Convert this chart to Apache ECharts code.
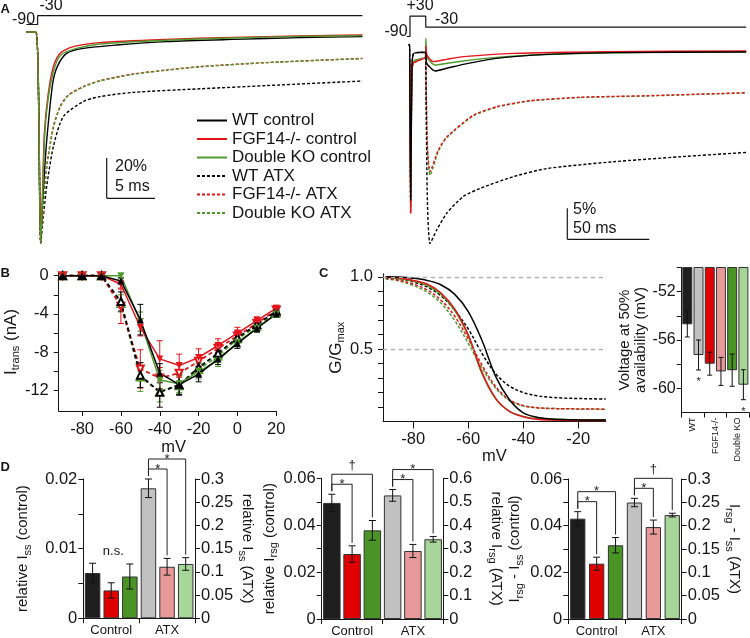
<!DOCTYPE html>
<html><head><meta charset="utf-8">
<script src="https://cdn.jsdelivr.net/npm/echarts@6/dist/echarts.min.js"></script>
<style>html,body{margin:0;padding:0;background:#fff}#c{width:750px;height:638px}</style>
</head><body><div id="c"></div>
<script>
// ================= DATA =================
const traceNames = ['WT control','FGF14-/- control','Double KO control','WT ATX','FGF14-/- ATX','Double KO ATX'];

// Panel A (left): time (ms) vs current (% of peak)
const aLeftProtocol = [[-1,3.75],[0.17,3.75],[0.17,8.2],[34,8.2]];
const aLeftWTctrl  = [[-1,0],[0,0],[0.49,-105.5],[0.7,-84],[0.95,-65],[1.18,-50.7],[1.74,-25.7],[2.22,-17.3],[3.19,-10.7],[4.93,-8.2],[8.4,-6.5],[13.6,-4.8],[20.5,-3.7],[27.5,-2.8],[34,-2.3]];
const aLeftFGFctrl = [[-1,0],[0,0],[0.49,-105.5],[0.68,-80],[0.87,-50.7],[1.28,-30.7],[1.81,-17.3],[2.5,-10.7],[3.89,-7.3],[6.67,-5.3],[13.6,-3.7],[20.5,-2.7],[27.5,-2],[34,-1.5]];
const aLeftDKOctrl = [[-1,0],[0,0],[0.49,-105.5],[0.7,-80],[0.92,-50.7],[1.35,-30.7],[1.97,-17.3],[2.6,-11.5],[4.2,-8.2],[6.67,-6.0],[13.6,-4.1],[20.5,-3],[27.5,-2.2],[34,-1.8]];
const aLeftWTatx   = [[-1,0],[0,0],[0.49,-105.5],[0.75,-93],[1.11,-77.3],[1.81,-57.3],[2.85,-42.3],[4.93,-34.8],[6.67,-32.3],[10.1,-30.2],[17.1,-28.4],[24,-26.8],[34,-24.5]];
const aLeftFGFatx  = [[-1,0],[0,0],[0.49,-105.5],[0.75,-88],[1.11,-67.3],[1.81,-47.3],[2.5,-37.3],[3.37,-31.5],[4.93,-27.3],[6.67,-24.3],[10.1,-21],[13.6,-19],[17.1,-17.3],[24,-15.3],[34,-13.2]];
const aLeftDKOatx  = [[-1,0],[0,0],[0.49,-105.5],[0.75,-88.5],[1.11,-68],[1.81,-48],[2.5,-37.8],[3.37,-31.8],[4.93,-27.5],[6.67,-24.5],[10.1,-21.2],[13.6,-19.1],[17.1,-17.4],[24,-15.3],[34,-13.3]];

// Panel A (right)
const aRightProtocol = [[-2,2.5],[0,2.5],[0,5.8],[9.6,5.8],[9.6,4],[205,4]];
const aRightWTctrl  = [[-0.6,1.3],[-0.2,0.8],[0.4,-23.9],[1.2,-2.4],[2,-0.3],[4,-0.1],[9.4,-0.05],[10.2,-1.83],[15.2,-3.06],[22.4,-2.63],[32.5,-1.99],[52.8,-1.02],[83.3,-0.38],[124,-0.1],[205,0]];
const aRightFGFctrl = [[-0.2,-1.3],[0.4,-26],[1,-4],[2,-1.83],[6.1,-1.29],[9.4,-0.86],[9.7,1.0],[10.3,-0.5],[14.2,-1.56],[22.4,-1.18],[32.5,-0.75],[63,-0.22],[120,0.05],[205,0.16]];
const aRightDKOctrl = [[-0.2,-1.3],[0.4,-25],[1,-3.5],[2,-1.5],[6.1,-1.1],[9.4,-0.9],[9.7,2.2],[10.3,-0.8],[15.2,-2.1],[22.4,-1.85],[32.5,-1.45],[52.8,-0.86],[83.3,-0.4],[124,-0.12],[205,0.05]];
const aRightWTatx   = [[-0.6,1.3],[-0.2,0.8],[0.4,-23.9],[1.2,-2.4],[2,-0.3],[4,-0.1],[9.4,-0.05],[9.8,-8],[10.6,-24],[12.2,-30.9],[16.3,-28.7],[22.4,-26],[32.5,-23.3],[42.7,-22],[63,-20.1],[83.3,-18.8],[124,-17.7],[164.6,-16.9],[205,-16.2]];
const aRightFGFatx  = [[-0.2,-1.3],[0.4,-26],[1,-4],[2,-1.83],[6.1,-1.29],[9.4,-0.86],[9.8,-5],[10.6,-15],[12.2,-19.3],[17.3,-15.8],[22.4,-13.7],[38.6,-10.2],[52.8,-8.82],[73.2,-7.85],[103.7,-7.3],[144.3,-7.05],[205,-6.56]];
const aRightDKOatx  = [[-0.2,-1.3],[0.4,-25],[1,-3.5],[2,-1.5],[6.1,-1.1],[9.4,-0.9],[9.8,-5.2],[10.6,-15.5],[12.2,-19.9],[17.3,-16.0],[22.4,-13.8],[38.6,-10.3],[52.8,-8.9],[73.2,-7.9],[103.7,-7.35],[144.3,-7.1],[205,-6.6]];

// Panel B: I-V
const bVolt      = [-90,-80,-70,-60,-50,-40,-30,-20,-10,0,10,20];
const bWTctrl    = [0,0,0,-0.55,-4.6,-10.2,-11.4,-10.3,-8.7,-7.1,-5.5,-4.0];
const bFGFctrl   = [0,0,0,-0.9,-5.4,-8.7,-9.4,-8.55,-7.3,-6.0,-4.7,-3.4];
const bDKOctrl   = [0,0,0,0,-4.8,-10.9,-11.3,-10.0,-8.9,-6.95,-5.5,-4.0];
const bWTatx     = [0,0,0,-2.7,-10.4,-12.2,-11.4,-9.6,-8.1,-6.5,-5.1,-3.7];
const bFGFatx    = [0,0,0,-3.2,-9.75,-10.7,-10.2,-8.96,-7.6,-6.3,-5.0,-3.6];
const bDKOatx    = [0,0,0,-2.9,-10.6,-12.1,-11.5,-9.8,-8.4,-6.6,-5.3,-3.9];
const bWTctrlErr  = [0,0,0,0.3,1.6,1.0,1.1,0.8,0.6,0.5,0.4,0.3];
const bFGFctrlErr = [0,0,0,0.4,0.9,1.9,1.2,0.9,0.7,0.6,0.4,0.3];
const bDKOctrlErr = [0,0,0,0.2,1.0,1.0,0.9,0.8,0.6,0.5,0.4,0.3];
const bWTatxErr   = [0,0,0,1.0,1.3,1.55,1.0,0.8,0.6,0.5,0.4,0.3];
const bFGFatxErr  = [0,0,0,1.8,2.0,1.1,0.9,0.7,0.5,0.5,0.4,0.3];
const bDKOatxErr  = [0,0,0,0.9,1.5,1.1,0.9,0.7,0.6,0.5,0.4,0.3];

// Panel C: availability curves
const cVolt    = [-90,-85,-80,-75,-70,-65,-60,-55,-50,-45,-40,-35,-30,-25,-20,-15,-10];
const cWTctrl  = [1.0,0.998,0.99,0.975,0.945,0.88,0.76,0.56,0.31,0.15,0.06,0.03,0.018,0.013,0.011,0.01,0.01];
const cFGFctrl = [1.0,0.99,0.975,0.95,0.89,0.78,0.6,0.34,0.16,0.07,0.033,0.015,0.01,0.008,0.007,0.007,0.007];
const cDKOctrl = [1.0,0.985,0.97,0.94,0.88,0.77,0.59,0.33,0.155,0.07,0.035,0.02,0.015,0.013,0.012,0.012,0.012];
const cWTatx   = [0.995,0.985,0.965,0.93,0.87,0.77,0.64,0.47,0.33,0.245,0.2,0.178,0.167,0.162,0.159,0.157,0.155];
const cFGFatx  = [0.99,0.975,0.95,0.91,0.84,0.73,0.57,0.39,0.24,0.15,0.11,0.095,0.09,0.088,0.087,0.086,0.085];
const cDKOatx  = [0.985,0.97,0.94,0.895,0.82,0.7,0.54,0.37,0.23,0.145,0.108,0.095,0.09,0.088,0.087,0.086,0.085];
const cRefLines = [1.0, 0.5];

// Panel C inset: V50
const insetCats   = ['WT','FGF14-/-','Double KO'];
const insetV50    = [-54.7,-57.24,-57.96,-58.6,-58.5,-59.7];
const insetV50Err = [1.05,1.24,0.95,1.16,1.33,1.24];
const insetStars  = [1,5];

// Panel D
const dCats = ['Control','ATX'];
const d1Ctrl = [0.0065,0.0040,0.0060], d1CtrlErr = [0.0014,0.0011,0.0018];
const d1Atx  = [0.280,0.111,0.117],    d1AtxErr  = [0.020,0.018,0.0136];
const d2Ctrl = [0.0495,0.0277,0.0378], d2CtrlErr = [0.0037,0.0035,0.0042];
const d2Atx  = [0.527,0.29,0.34],      d2AtxErr  = [0.025,0.028,0.012];
const d3Ctrl = [0.043,0.0237,0.0316],  d3CtrlErr = [0.003,0.0028,0.0033];
const d3Atx  = [0.2496,0.197,0.2227],  d3AtxErr  = [0.009,0.015,0.004];
const d1Sig = {ctrl: [], atx: [[1,'*'],[2,'*']]};
const d2Sig = {ctrl: [[1,'*'],[2,'\u2020']], atx: [[1,'*'],[2,'*']]};
const d3Sig = {ctrl: [[1,'*'],[2,'*']], atx: [[1,'*'],[2,'\u2020']]};

// ================= STYLE =================
const FONT = '"Liberation Sans", Arial, sans-serif';
const INK = '#161616';
const C_BLK = '#000000', C_RED = '#e3141b', C_GRN = '#4f9a2c';
const CTRL_COL = ['#1e1e1e','#e00000','#4a9426'];
const ATX_COL  = ['#c1c1c1','#e89a9a','#a8d69a'];
const INSET_COL = ['#1e1e1e','#c1c1c1','#e00000','#e89a9a','#4a9426','#a8d69a'];
const traceColors = [C_BLK, C_RED, C_GRN, C_BLK, C_RED, C_GRN];
const DASH = [3,2];

const chart = echarts.init(document.getElementById('c'), null, {renderer:'canvas'});

function lineAxisStyle(){ return {show:true, onZero:false, lineStyle:{color:INK, width:1}}; }
function tickStyle(len, vals){ const t = {show:true, length:len, inside:false, lineStyle:{color:INK, width:1}}; if (vals) t.customValues = vals; return t; }
function labStyle(size, margin, vals, extra){ const l = Object.assign({color:INK, fontSize:size, fontFamily:FONT, margin:margin}, extra||{}); if (vals) l.customValues = vals; return l; }
const nameRich = {s:{fontSize:11, lineHeight:12, verticalAlign:'bottom', fontFamily:FONT, color:INK}};
function nameStyle(size){ return {fontSize:size, lineHeight:20, fontFamily:FONT, color:INK, rich:nameRich}; }
const fmt = v => String(parseFloat(Number(v).toFixed(4)));

// ---- renderers ----
function errRender(cap, fixedColor){
  return function(params, api){
    const x = api.value(0), y = api.value(1), e = api.value(2);
    if (!e) return null;
    const t = api.coord([x, y + e]), b = api.coord([x, y - e]);
    const style = {stroke: fixedColor || api.visual('color'), lineWidth: 1};
    return {type:'group', children:[
      {type:'line', shape:{x1:t[0],y1:t[1],x2:b[0],y2:b[1]}, style},
      {type:'line', shape:{x1:t[0]-cap,y1:t[1],x2:t[0]+cap,y2:t[1]}, style},
      {type:'line', shape:{x1:b[0]-cap,y1:b[1],x2:b[0]+cap,y2:b[1]}, style}
    ]};
  };
}
function bracketRender(labels){
  return function(params, api){
    const a = api.coord([api.value(0), api.value(2)]);
    const b = api.coord([api.value(1), api.value(3)]);
    const rank = api.value(4);
    const lvl = a[1] - 10*rank;
    const lab = labels[params.dataIndex];
    return {type:'group', children:[
      {type:'polyline', shape:{points:[[a[0],a[1]-3],[a[0],lvl],[b[0],lvl],[b[0],b[1]-3]]}, style:{stroke:'#222', lineWidth:1, fill:null}},
      {type:'text', x:(a[0]+b[0])/2, y: lab === '*' ? lvl : lvl - 9,
       style:{text:lab, align:'center', verticalAlign:'middle', fontSize:13, fontFamily:FONT, fill:'#222'}}
    ]};
  };
}
function starRender(params, api){
  const p = api.coord([api.value(0), api.value(1)]);
  return {type:'text', x:p[0], y:p[1]+12, style:{text:'*', align:'center', verticalAlign:'middle', fontSize:11, fontFamily:FONT, fill:'#222'}};
}

// ================= GRIDS / AXES =================
const grids = [
  {left:26.4, top:12, width:336, height:240},            // 0 A left
  {left:401.8, top:8.6, width:344.4, height:241.8},      // 1 A right
  {left:48.3, top:272.8, width:228, height:138.2},       // 2 B
  {left:383, top:273.9, width:222.75, height:147.6},     // 3 C
  {left:681.7, top:267.5, width:67.3, height:145},       // 4 inset
  {left:83.3, top:479, width:111.7, height:139.3},       // 5 D1
  {left:321.7, top:478.3, width:121.6, height:142.4},    // 6 D2
  {left:568.3, top:479, width:113.4, height:141}         // 7 D3
];

const slotCats = [0,1,2,3,4,5];
function hiddenCat(g){ return {gridIndex:g, type:'category', data:slotCats, show:false}; }
function visCat(g, data, extra){
  return Object.assign({gridIndex:g, type:'category', data:data, position:'bottom',
    axisLine:lineAxisStyle(), axisTick:tickStyle(5), axisLabel:labStyle(13,6), splitLine:{show:false}}, extra||{});
}

const xAxes = [
  {gridIndex:0, type:'value', min:-1, max:34, show:false},
  {gridIndex:1, type:'value', min:-5, max:205, show:false},
  {gridIndex:2, type:'value', min:-92, max:20, axisLine:lineAxisStyle(),
    axisTick:tickStyle(5,[-80,-60,-40,-20,0,20]), axisLabel:labStyle(16.5,10,[-80,-60,-40,-20,0,20]),
    splitLine:{show:false}, name:'mV', nameLocation:'middle', nameGap:23,
    nameTextStyle:{fontSize:16.5, fontFamily:FONT, color:INK, padding:[0,0,0,12]}},
  {gridIndex:3, type:'value', min:-91, max:-10, axisLine:lineAxisStyle(),
    axisTick:tickStyle(7,[-80,-60,-40,-20]), axisLabel:labStyle(16.5,9,[-80,-60,-40,-20]),
    splitLine:{show:false}, name:'mV', nameLocation:'middle', nameGap:11,
    nameTextStyle:{fontSize:16.5, fontFamily:FONT, color:INK}},
  hiddenCat(4),
  visCat(4, insetCats, {axisLabel:labStyle(9,5,null,{rotate:90})}),
  hiddenCat(5), visCat(5, dCats),
  hiddenCat(6), visCat(6, dCats),
  hiddenCat(7), visCat(7, dCats)
];

function dY(g, max, ticks, labels, pos, name, gap){
  return {gridIndex:g, type:'value', min:0, max:max, position:pos,
    axisLine:lineAxisStyle(), axisTick:tickStyle(5,ticks),
    axisLabel:labStyle(16.5,6,labels,{formatter:fmt}), splitLine:{show:false},
    name:name, nameLocation:'middle', nameGap:gap, nameRotate: pos === 'left' ? 90 : -90,
    nameTextStyle:nameStyle(15)};
}
const yAxes = [
  {gridIndex:0, type:'value', min:-110, max:10, show:false},
  {gridIndex:1, type:'value', min:-32, max:7, show:false},
  {gridIndex:2, type:'value', min:-14.15, max:0.3, axisLine:lineAxisStyle(),
    axisTick:tickStyle(5,[0,-2,-4,-6,-8,-10,-12]), axisLabel:labStyle(16.5,10,[0,-4,-8,-12]),
    splitLine:{show:false}, name:'I{s|trans} (nA)', nameLocation:'middle', nameGap:30, nameRotate:90,
    nameTextStyle:nameStyle(17)},
  {gridIndex:3, type:'value', min:0, max:1.02, axisLine:lineAxisStyle(),
    axisTick:tickStyle(5,[0.1,0.2,0.3,0.4,0.5,0.6,0.7,0.8,0.9,1.0]), axisLabel:labStyle(16.5,10,[0.5,1.0],{formatter:v=>Number(v).toFixed(1)}),
    splitLine:{show:false}, name:'G/G{s|max}', nameLocation:'middle', nameGap:37, nameRotate:90,
    nameTextStyle:nameStyle(17)},
  {gridIndex:4, type:'value', min:-62, max:-50, axisLine:lineAxisStyle(),
    axisTick:tickStyle(5,[-60,-58,-56,-54,-52,-50]), axisLabel:labStyle(16,6,[-60,-56,-52]),
    splitLine:{show:false}, name:'Voltage at 50%\navailability (mV)', nameLocation:'middle', nameGap:31, nameRotate:90,
    nameTextStyle:{fontSize:15, lineHeight:16, fontFamily:FONT, color:INK}},
  dY(5, 0.02, [0,0.005,0.01,0.015,0.02], [0,0.01,0.02], 'left', 'relative I{s|ss} (control)', 50),
  dY(5, 0.3, [0,0.05,0.1,0.15,0.2,0.25,0.3], [0,0.05,0.1,0.15,0.2,0.25,0.3], 'right', 'relative I{s|ss} (ATX)', 40),
  dY(6, 0.06, [0,0.01,0.02,0.03,0.04,0.05,0.06], [0,0.02,0.04,0.06], 'left', 'relative I{s|rsg} (control)', 42),
  dY(6, 0.6, [0,0.1,0.2,0.3,0.4,0.5,0.6], [0,0.1,0.2,0.3,0.4,0.5,0.6], 'right', 'relative I{s|rsg} (ATX)', 43),
  dY(7, 0.06, [0,0.01,0.02,0.03,0.04,0.05,0.06], [0,0.02,0.04,0.06], 'left', 'I{s|rsg} - I{s|ss} (control)', 43),
  dY(7, 0.3, [0,0.05,0.1,0.15,0.2,0.25,0.3], [0,0.05,0.1,0.15,0.2,0.25,0.3], 'right', 'I{s|rsg} - I{s|ss} (ATX)', 40)
];

// ================= SERIES =================
const series = [];
function trace(name, data, xi, color, dashed, smooth){
  return {type:'line', name:name, xAxisIndex:xi, yAxisIndex:xi, data:data, symbol:'none',
    smooth:smooth, color:color,
    lineStyle:{color:color, width:1.4, type: dashed ? DASH : 'solid'}, z: dashed ? 2 : 3};
}
// A left (first, for the legend)
[aLeftWTctrl,aLeftFGFctrl,aLeftDKOctrl,aLeftWTatx,aLeftFGFatx,aLeftDKOatx].forEach((d,i)=>{
  series.push(trace(traceNames[i], d, 0, traceColors[i], i>=3, 0.25));
});
series.push({type:'line', xAxisIndex:0, yAxisIndex:0, data:aLeftProtocol, symbol:'none', lineStyle:{color:INK,width:1.2}});
// A right
[aRightDKOatx,aRightFGFatx,aRightWTatx,aRightDKOctrl,aRightFGFctrl,aRightWTctrl].forEach((d,k)=>{
  const i = [5,4,3,2,1,0][k];
  series.push(trace(traceNames[i], d, 1, traceColors[i], i>=3, 0.2));
});
series.push({type:'line', xAxisIndex:1, yAxisIndex:1, data:aRightProtocol, symbol:'none', lineStyle:{color:INK,width:1.2}});

// B
const bSets = [
  {v:bDKOatx, e:bDKOatxErr, c:C_GRN, d:true,  s:'emptyTriangle', r:0},
  {v:bFGFatx, e:bFGFatxErr, c:C_RED, d:true,  s:'emptyTriangle', r:180},
  {v:bWTatx,  e:bWTatxErr,  c:C_BLK, d:true,  s:'emptyTriangle', r:0},
  {v:bDKOctrl,e:bDKOctrlErr,c:C_GRN, d:false, s:'triangle', r:180},
  {v:bFGFctrl,e:bFGFctrlErr,c:C_RED, d:false, s:'triangle', r:180},
  {v:bWTctrl, e:bWTctrlErr, c:C_BLK, d:false, s:'triangle', r:0}
];
bSets.forEach(st=>{
  series.push({type:'custom', xAxisIndex:2, yAxisIndex:2, renderItem:errRender(3, st.c),
    data: bVolt.map((x,i)=>[x, st.v[i], st.e[i]]), z:2});
});
bSets.forEach(st=>{
  series.push({type:'line', xAxisIndex:2, yAxisIndex:2, data: bVolt.map((x,i)=>[x, st.v[i]]),
    symbol:st.s, symbolRotate:st.r, symbolSize:7, showSymbol:true, color:st.c,
    itemStyle:{color:st.c, borderColor:st.c, borderWidth: st.d ? 1.3 : 0},
    lineStyle:{color:st.c, width: st.d ? 1.8 : 1.5, type: st.d ? [4,3] : 'solid'}, z:3});
});

// C
const cSets = [
  {v:cDKOatx, c:C_GRN, d:true}, {v:cFGFatx, c:C_RED, d:true}, {v:cWTatx, c:C_BLK, d:true},
  {v:cDKOctrl, c:C_GRN, d:false}, {v:cFGFctrl, c:C_RED, d:false}, {v:cWTctrl, c:C_BLK, d:false}
];
cSets.forEach((st,k)=>{
  const s = {type:'line', xAxisIndex:3, yAxisIndex:3, data: cVolt.map((x,i)=>[x, st.v[i]]),
    symbol:'none', smooth:0.35,
    lineStyle:{color:st.c, width:1.5, type: st.d ? DASH : 'solid'}, z:3};
  if (k === 0) s.markLine = {silent:true, symbol:'none', label:{show:false},
    lineStyle:{color:'#aaaaaa', type:[4,4], width:1.3}, data: cRefLines.map(y=>({yAxis:y}))};
  series.push(s);
});

// Inset
series.push({type:'bar', xAxisIndex:4, yAxisIndex:4, barCategoryGap:'11%',
  data: insetV50.map((v,i)=>({value:v, itemStyle:{color:INSET_COL[i]}})),
  itemStyle:{borderColor:'#333', borderWidth:1}, z:2});
series.push({type:'custom', xAxisIndex:4, yAxisIndex:4, renderItem:errRender(2.5,'#111'),
  data: insetV50.map((v,i)=>[i, v, insetV50Err[i]]), z:4});
series.push({type:'custom', xAxisIndex:4, yAxisIndex:4, renderItem:starRender,
  data: insetStars.map(i=>[i, insetV50[i]-insetV50Err[i]]), z:4});

// D panels
function dPanel(xi, yl, yr, ctrl, ctrlErr, atx, atxErr, barW, sig){
  series.push({type:'bar', xAxisIndex:xi, yAxisIndex:yl, barWidth:barW, barGap:'-100%',
    data: ctrl.map((v,i)=>({value:v, itemStyle:{color:CTRL_COL[i]}})).concat(['-','-','-']),
    itemStyle:{borderColor:'#333', borderWidth:1}, z:2});
  series.push({type:'bar', xAxisIndex:xi, yAxisIndex:yr, barWidth:barW, barGap:'-100%',
    data: ['-','-','-'].concat(atx.map((v,i)=>({value:v, itemStyle:{color:ATX_COL[i]}}))),
    itemStyle:{borderColor:'#333', borderWidth:1}, z:2});
  series.push({type:'custom', xAxisIndex:xi, yAxisIndex:yl, renderItem:errRender(3.5,'#111'),
    data: ctrl.map((v,i)=>[i, v, ctrlErr[i]]), z:4});
  series.push({type:'custom', xAxisIndex:xi, yAxisIndex:yr, renderItem:errRender(3.5,'#111'),
    data: atx.map((v,i)=>[3+i, v, atxErr[i]]), z:4});
  if (sig.ctrl.length) series.push({type:'custom', xAxisIndex:xi, yAxisIndex:yl,
    renderItem:bracketRender(sig.ctrl.map(s=>s[1])), encode:{x:0, y:2},
    data: sig.ctrl.map((s,k)=>[0, s[0], ctrl[0]+ctrlErr[0], ctrl[s[0]]+ctrlErr[s[0]], k+1]), z:5});
  if (sig.atx.length) series.push({type:'custom', xAxisIndex:xi, yAxisIndex:yr,
    renderItem:bracketRender(sig.atx.map(s=>s[1])), encode:{x:0, y:2},
    data: sig.atx.map((s,k)=>[3, 3+s[0], atx[0]+atxErr[0], atx[s[0]]+atxErr[s[0]], k+1]), z:5});
}
dPanel(6, 5, 6, d1Ctrl, d1CtrlErr, d1Atx, d1AtxErr, 15.5, d1Sig);
dPanel(8, 7, 8, d2Ctrl, d2CtrlErr, d2Atx, d2AtxErr, 17.5, d2Sig);
dPanel(10, 9, 10, d3Ctrl, d3CtrlErr, d3Atx, d3AtxErr, 15.3, d3Sig);

// ================= ANNOTATIONS =================
function txt(x, y, s, size, extra){
  return {type:'text', x:x, y:y, style:Object.assign({text:s, fontSize:size, fontFamily:FONT, fill:INK, align:'center', verticalAlign:'middle'}, extra||{})};
}
function seg(x1,y1,x2,y2){ return {type:'line', shape:{x1,y1,x2,y2}, style:{stroke:INK, lineWidth:1.2}}; }
const bold = {fontWeight:'bold', align:'left', verticalAlign:'top'};
const graphic = [
  txt(0.5, 2.5, 'A', 13, bold), txt(0.5, 267, 'B', 13, bold), txt(319, 266.5, 'C', 13, bold), txt(0.5, 461, 'D', 13, bold),
  txt(23.5, 19.5, '-90', 16), txt(51, 5.5, '-30', 16),
  txt(420, 6, '+30', 16), txt(446.5, 20, '-30', 16), txt(396, 32, '-90', 16),
  seg(106.7,158,106.7,198.3), seg(106.7,198.3,155,198.3),
  txt(115, 166.5, '20%', 16, {align:'left'}), txt(115, 186.5, '5 ms', 16, {align:'left'}),
  seg(567.3,208.3,567.3,239.3), seg(567.3,239.3,649.3,239.3),
  txt(573, 210, '5%', 16, {align:'left'}), txt(573, 229, '50 ms', 16, {align:'left'}),
  txt(113.3, 551.7, 'n.s.', 13)
];

chart.setOption({
  animation:false,
  backgroundColor:'#ffffff',
  textStyle:{fontFamily:FONT},
  legend:{data:traceNames, orient:'vertical', left:191, top:107, padding:5, itemWidth:30, itemHeight:12, itemGap:1.5,
    selectedMode:false, itemStyle:{opacity:0}, textStyle:{fontSize:17, fontFamily:FONT, color:INK}},
  grid:grids, xAxis:xAxes, yAxis:yAxes, series:series, graphic:graphic
});
</script>
</body></html>
